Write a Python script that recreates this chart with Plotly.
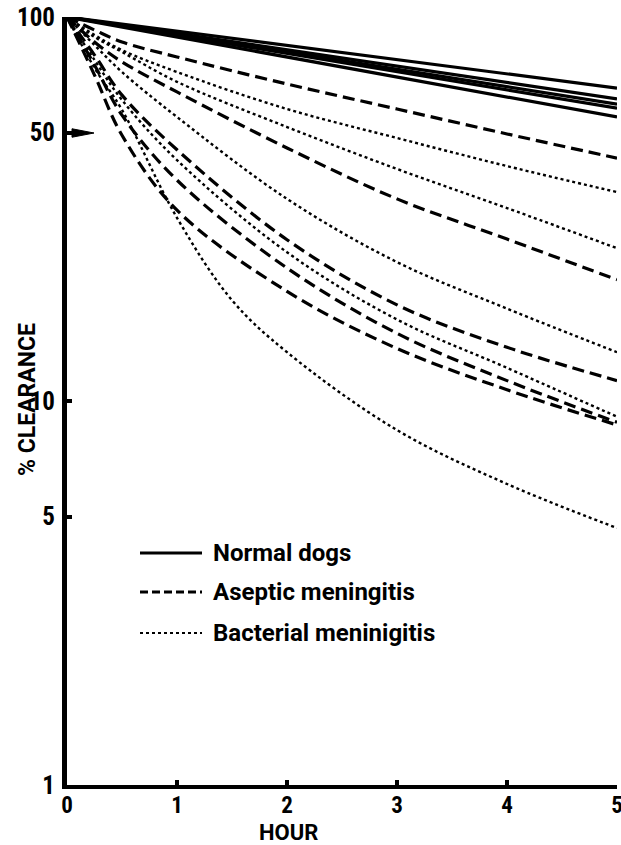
import plotly.graph_objects as go

# ---- data (hours, % clearance) ----
hours_full = [0, 0.25, 0.5, 1, 2, 3, 4, 5]
hours_normal = [0, 1, 2, 3, 4, 5]

normal_1 = [100, 91.8, 84.3, 77.4, 71.1, 65.3]
normal_2 = [100, 90.6, 82.2, 74.5, 67.5, 61.2]
normal_3 = [100, 90.1, 81.1, 73.1, 65.8, 59.3]
normal_4 = [100, 89.6, 80.4, 72.0, 64.6, 57.9]
normal_5 = [100, 88.7, 78.7, 69.8, 61.9, 54.9]

aseptic_a = [100, 92.5, 86.1, 78.7, 66.9, 57.6, 49.6, 42.9]
aseptic_d = [100, 86.1, 76.4, 63.8, 45.6, 33.6, 26.4, 20.7]
aseptic_f = [100, 79.6, 62.6, 45.1, 26.3, 17.8, 13.8, 11.3]
aseptic_h = [100, 75.0, 55.5, 37.6, 22.2, 15.0, 11.3, 8.8]
aseptic_i = [100, 70.6, 49.2, 31.4, 19.3, 13.7, 10.7, 8.66]

bacterial_b = [100, 89.8, 82.0, 71.9, 57.6, 48.4, 40.9, 35.0]
bacterial_c = [100, 88.7, 81.1, 67.8, 51.7, 40.2, 31.8, 25.0]
bacterial_e = [100, 84.5, 71.9, 54.9, 33.6, 23.0, 17.4, 13.4]
bacterial_g = [100, 77.3, 60.8, 42.4, 24.4, 16.3, 12.2, 9.1]
hours_j = [0, 0.25, 0.5, 1, 1.5, 2, 3, 4, 5]
bacterial_j = [100, 73.7, 57.3, 30.0, 18.3, 13.4, 8.4, 6.08, 4.67]

y_tickvals = [1, 5, 10, 50, 100]
y_ticktext = ["1", "5", "10", "50", "100"]
x_tickvals = [0, 1, 2, 3, 4, 5]
x_ticktext = ["0", "1", "2", "3", "4", "5"]

legend_labels = ["Normal dogs", "Aseptic meningitis", "Bacterial meninigitis"]

TICKFONT = "Roboto Condensed, DejaVu Sans Condensed, Liberation Sans Narrow, Roboto, sans-serif"
TEXTFONT = "Roboto, DejaVu Sans, sans-serif"
DASH = "12px,6px"

fig = go.Figure()

for ys in [normal_1, normal_2, normal_3, normal_4, normal_5]:
    fig.add_trace(go.Scatter(x=hours_normal, y=ys, mode="lines",
                             line=dict(color="black", width=3.2),
                             showlegend=False, hoverinfo="skip"))

for ys in [aseptic_a, aseptic_d, aseptic_f, aseptic_h, aseptic_i]:
    fig.add_trace(go.Scatter(x=hours_full, y=ys, mode="lines",
                             line=dict(color="black", width=3.2, dash=DASH,
                                       shape="spline", smoothing=1.0),
                             showlegend=False, hoverinfo="skip"))

for xs, ys in [(hours_full, bacterial_b), (hours_full, bacterial_c),
               (hours_full, bacterial_e), (hours_full, bacterial_g),
               (hours_j, bacterial_j)]:
    fig.add_trace(go.Scatter(x=xs, y=ys, mode="lines",
                             line=dict(color="black", width=2.4, dash="dot",
                                       shape="spline", smoothing=1.0),
                             showlegend=False, hoverinfo="skip"))

# plot area geometry: x 67..617 px, y 17..785 px
def px_x(p):
    return (p - 67) / 550.0

def px_y(p):
    return (785 - p) / 768.0

shapes = []
annotations = []
legend_rows = [(553, "solid"), (592, "8px,4px"), (633, "dot")]
for (ypx, dash), label in zip(legend_rows, legend_labels):
    shapes.append(dict(type="line", xref="paper", yref="paper",
                       x0=px_x(140), x1=px_x(202), y0=px_y(ypx), y1=px_y(ypx),
                       line=dict(color="black", width=3 if dash != "dot" else 2.2, dash=dash)))
    annotations.append(dict(xref="paper", yref="paper", x=px_x(211), y=px_y(ypx),
                            xanchor="left", yanchor="middle", showarrow=False,
                            text=label,
                            font=dict(family=TEXTFONT, size=24, color="black", weight="bold")))

# arrow mark at 50
y50 = px_y(133)
shapes.append(dict(type="path", xref="paper", yref="paper",
                   path=f"M {px_x(72)},{y50 + 0.0055} L {px_x(94)},{y50} L {px_x(72)},{y50 - 0.0055} Z",
                   fillcolor="black", line=dict(color="black", width=1)))

annotations.append(dict(xref="paper", yref="paper", x=px_x(288), y=px_y(832),
                        xanchor="center", yanchor="middle", showarrow=False,
                        text="HOUR",
                        font=dict(family=TEXTFONT, size=22, color="black", weight="bold")))
annotations.append(dict(xref="paper", yref="paper", x=px_x(27), y=px_y(400),
                        xanchor="center", yanchor="middle", showarrow=False,
                        textangle=-90, text="% CLEARANCE",
                        font=dict(family=TEXTFONT, size=23, color="black", weight="bold")))

fig.update_layout(
    width=621, height=845,
    margin=dict(l=67, r=4, t=17, b=60, autoexpand=False),
    paper_bgcolor="white", plot_bgcolor="white",
    showlegend=False,
    shapes=shapes, annotations=annotations,
    xaxis=dict(range=[0, 5], tickvals=x_tickvals, ticktext=x_ticktext,
               showgrid=False, zeroline=False, showline=True, linecolor="black",
               linewidth=4, ticks="inside", ticklen=5, tickwidth=4, tickcolor="black",
               ticklabelstandoff=-4, ticklabeloverflow="allow",
               tickfont=dict(family=TICKFONT, size=23, color="black", weight="bold")),
    yaxis=dict(type="log", range=[0, 2], tickvals=y_tickvals, ticktext=y_ticktext,
               showgrid=False, zeroline=False, showline=True, linecolor="black",
               linewidth=5, ticks="inside", ticklen=5, tickwidth=4, tickcolor="black",
               ticklabelstandoff=2, ticklabeloverflow="allow",
               tickfont=dict(family=TICKFONT, size=25, color="black", weight="bold")),
)

fig.write_html("out.html", config={"displayModeBar": False},
               post_script="document.body.style.margin='0';")
